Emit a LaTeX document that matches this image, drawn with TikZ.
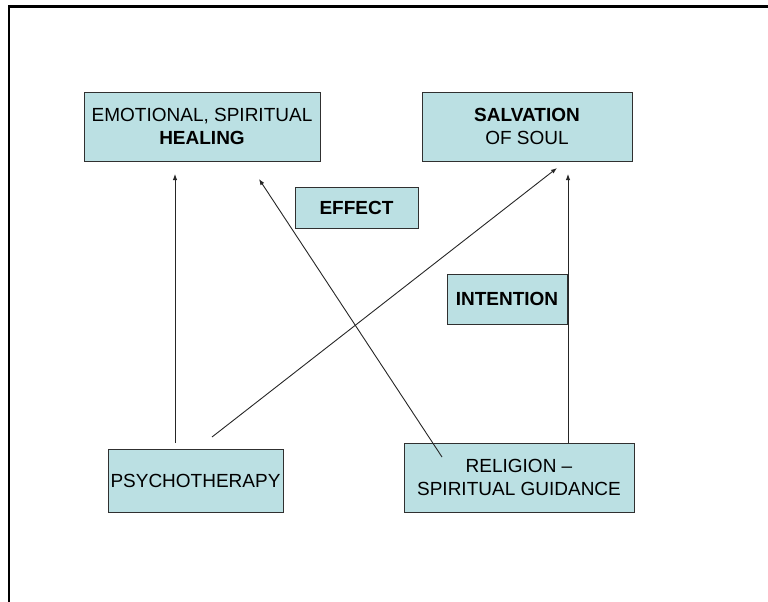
\documentclass[tikz,border=0pt]{standalone}
\usepackage{fontspec}
\setmainfont{Liberation Sans}
\usetikzlibrary{arrows.meta}
\definecolor{boxfill}{HTML}{BBE0E3}
\definecolor{boxline}{HTML}{303030}
\tikzset{
  bx/.style={draw=boxline, line width=0.9pt, fill=boxfill, inner sep=0pt, align=center,
    font=\fontsize{19}{23}\selectfont},
  arr/.style={line width=0.9pt, draw=black!85, -{Latex[length=6pt,width=4.5pt]}},
  frame/.style={line width=2.2pt, draw=black}
}
\begin{document}
\begin{tikzpicture}[x=1pt,y=-1pt]
\useasboundingbox (0,0) rectangle (768,602);
\draw[frame] (768,6.5) -- (9,6.5) -- (9,602);
\node[bx, minimum width=236pt, minimum height=69pt] (heal) at (202,126.5) {EMOTIONAL, SPIRITUAL\\\textbf{HEALING}};
\node[bx, minimum width=210pt, minimum height=69pt] (salv) at (527,126.5) {\textbf{SALVATION}\\OF SOUL};
\node[bx, minimum width=123pt, minimum height=41pt] (eff) at (356.5,207.5) {\textbf{EFFECT}};
\node[bx, minimum width=120pt, minimum height=50pt] (int) at (507,299) {\textbf{INTENTION}};
\node[bx, minimum width=175pt, minimum height=63pt] (psy) at (195.5,480.5) {PSYCHOTHERAPY};
\node[bx, minimum width=230pt, minimum height=69pt] (rel) at (519,477.5) {RELIGION –\\SPIRITUAL GUIDANCE};
\coordinate (a1s) at (175,443);
\coordinate (a1e) at (175,174);
\coordinate (a2s) at (212,437);
\coordinate (a2e) at (557,168);
\coordinate (a3s) at (442,457);
\coordinate (a3e) at (259,179);
\coordinate (a4s) at (568,443);
\coordinate (a4e) at (568,174);
\draw[arr] (a1s) -- (a1e);
\draw[arr] (a2s) -- (a2e);
\draw[arr] (a3s) -- (a3e);
\draw[arr] (a4s) -- (a4e);
\end{tikzpicture}
\end{document}
